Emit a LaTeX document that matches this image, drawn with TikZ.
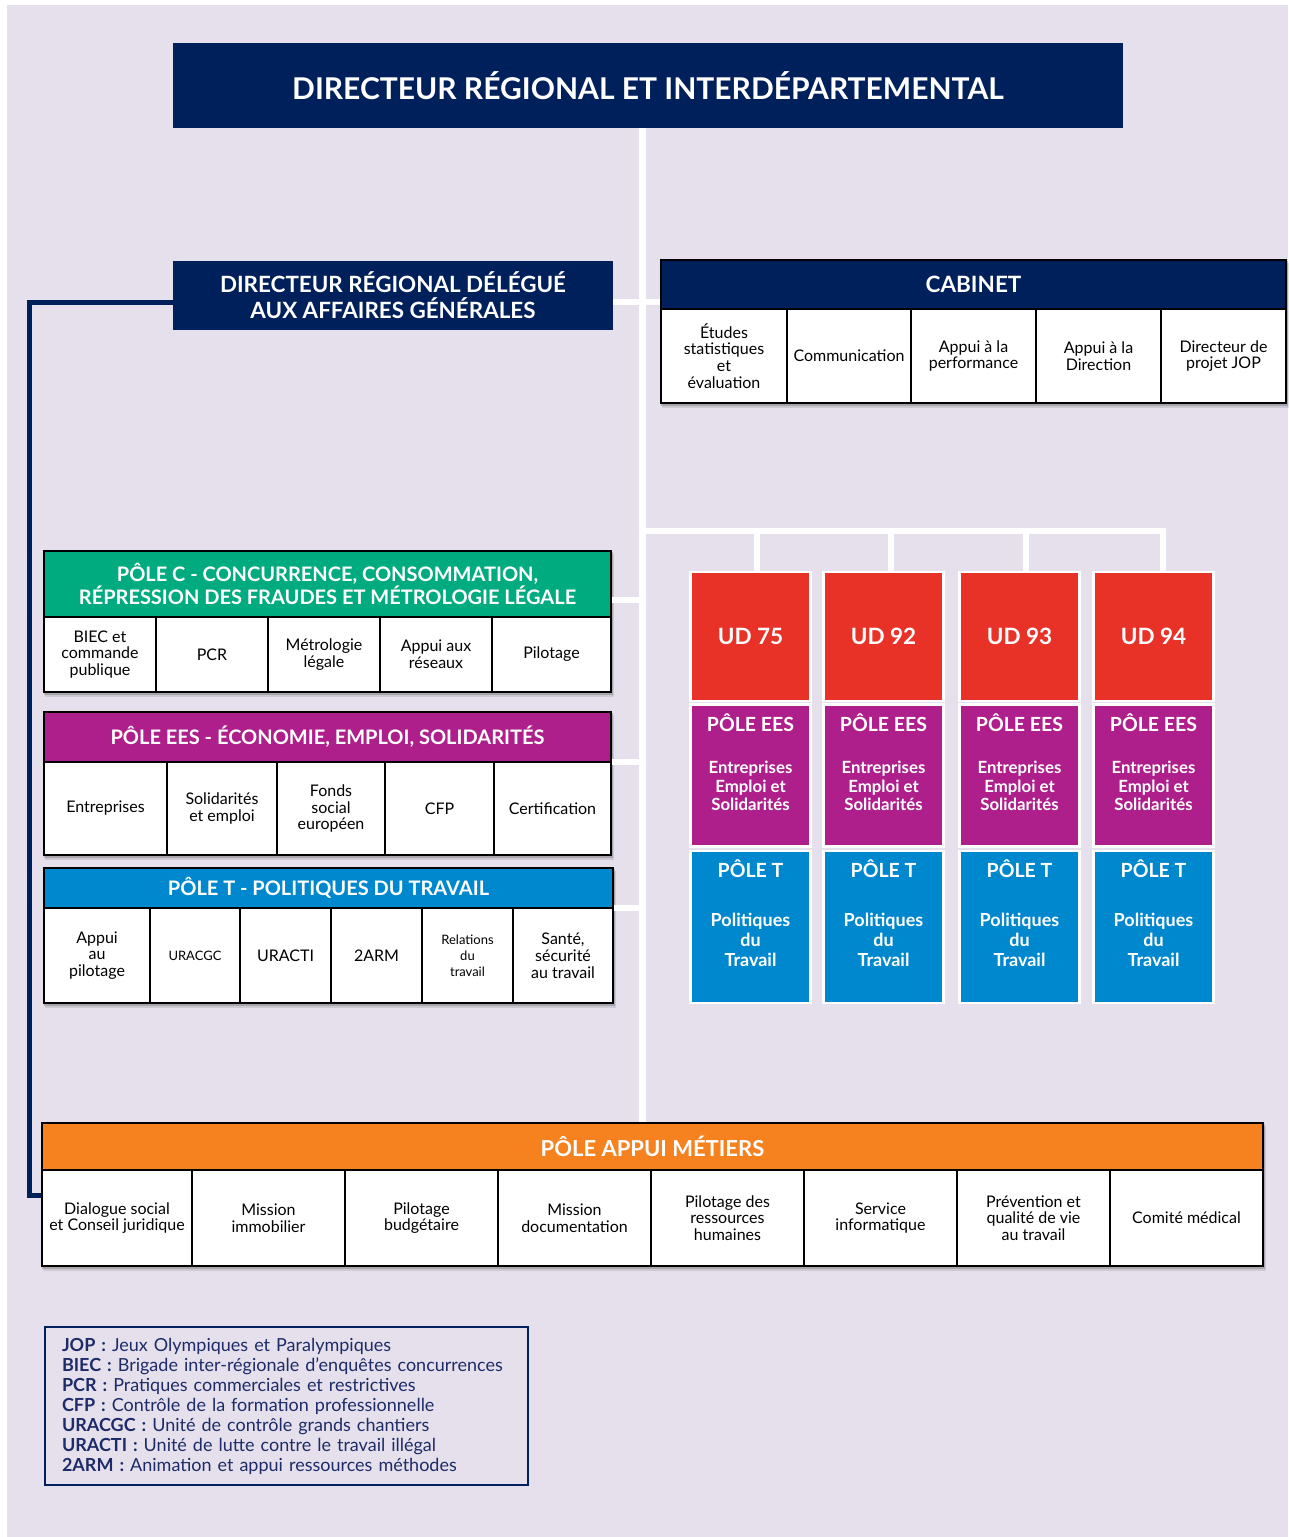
\documentclass[tikz,border=0pt]{standalone}
\usepackage{fontspec}
\setmainfont{Lato}
\usetikzlibrary{positioning,calc}
\definecolor{fond}{HTML}{E5E0EC}
\definecolor{marine}{HTML}{00205B}
\definecolor{vertc}{HTML}{00AB7F}
\definecolor{violetc}{HTML}{AE1F8C}
\definecolor{bleuc}{HTML}{0088CE}
\definecolor{rougec}{HTML}{E83127}
\definecolor{orangec}{HTML}{F5821F}
\definecolor{encre}{HTML}{1D2C68}
\tikzset{
  direction/.style={fill=marine,text=white,align=center,inner sep=0pt},
  entete/.style={draw=black,line width=2pt,text=white,align=center,inner sep=0pt,
    font=\bfseries\fontsize{20}{23}\selectfont},
  cellule/.style={draw=black,line width=2pt,fill=white,align=center,inner sep=0pt,
    font=\fontsize{16}{16.8}\selectfont},
  petit/.style={font=\fontsize{13}{16}\selectfont},
  std/.style={},
  udcase/.style={draw=white,line width=2.5pt,inner sep=0pt,minimum width=120},
  udtitre/.style={text=white,font=\bfseries\fontsize{19.5}{24}\selectfont},
  udtexte/.style={text=white,align=center,font=\bfseries\fontsize{16.8}{18.5}\selectfont},
  lien/.style={white,line width=6pt},
}
\newcommand{\ombre}[4]{%
  \fill[black,opacity=0.10] ({#1+1},{#2+3}) rectangle ({#3+3},{#4+5});
  \fill[black,opacity=0.18] ({#1},{#2+1}) rectangle ({#3+1.5},{#4+3});}

\begin{document}
\begin{tikzpicture}[x=1pt,y=-1pt]
  \useasboundingbox (0,0) rectangle (1288,1537);
  \fill[white] (0,0) rectangle (1288,1537);
  \fill[fond] (7,5) rectangle (1288,1537);
  % direction
  \node[direction,minimum width=950,minimum height=85,font=\bfseries\fontsize{30}{34}\selectfont]
    (dir) at (648,85.5) {DIRECTEUR RÉGIONAL ET INTERDÉPARTEMENTAL};
  \node[direction,minimum width=440,minimum height=69,font=\bfseries\fontsize{22.4}{26}\selectfont]
    (drd) at (393,295.5) {DIRECTEUR RÉGIONAL DÉLÉGUÉ\\AUX AFFAIRES GÉNÉRALES};
  % cabinet
  \ombre{661}{260}{1286}{403}
  \node[entete,fill=marine,minimum width=625,minimum height=49,font=\bfseries\fontsize{22.5}{24}\selectfont]
    (cab) at (973.5,284.5) {CABINET};
  \foreach \a/\b/\t [count=\i] in {661/787/{Études\\statistiques\\et\\évaluation},
      787/911/Communication,911/1036/{Appui à la\\performance},
      1036/1161/{Appui à la\\Direction},1161/1286/{Directeur de\\projet JOP}}
    \node[cellule,minimum width=\b-\a,minimum height=94] (cab-\i) at ({(\a+\b)/2},356) {\t};
  % poles regionaux
  \ombre{44}{551}{611}{692}
  \node[entete,fill=vertc,minimum width=567,minimum height=66] (poleC) at (327.5,584)
    {PÔLE C - CONCURRENCE, CONSOMMATION,\\RÉPRESSION DES FRAUDES ET MÉTROLOGIE LÉGALE};
  \foreach \a/\b/\t [count=\i] in {44/156/{BIEC et\\commande\\publique},156/268/PCR,
      268/380/{Métrologie\\légale},380/492/{Appui aux\\réseaux},492/611/Pilotage}
    \node[cellule,minimum width=\b-\a,minimum height=75] (poleC-\i) at ({(\a+\b)/2},654.5) {\t};
  \ombre{44}{712}{611}{855}
  \node[entete,fill=violetc,minimum width=567,minimum height=50] (poleEES) at (327.5,737)
    {PÔLE EES - ÉCONOMIE, EMPLOI, SOLIDARITÉS};
  \foreach \a/\b/\t [count=\i] in {44/167/Entreprises,167/277/{Solidarités\\et emploi},
      277/385/{Fonds\\social\\européen},385/494/CFP,494/611/Certification}
    \node[cellule,minimum width=\b-\a,minimum height=93] (poleEES-\i) at ({(\a+\b)/2},808.5) {\t};
  \ombre{44}{868}{613}{1003}
  \node[entete,fill=bleuc,minimum width=569,minimum height=40] (poleT) at (328.5,888)
    {PÔLE T - POLITIQUES DU TRAVAIL};
  \foreach \a/\b/\t/\s [count=\i] in {44/150/{Appui\\au\\pilotage}/std,150/240/URACGC/petit,
      240/331/URACTI/std,331/422/2ARM/std,422/513/{Relations\\du\\travail}/petit,
      513/613/{Santé,\\sécurité\\au travail}/std}
    \node[cellule,\s,minimum width=\b-\a,minimum height=95] (poleT-\i) at ({(\a+\b)/2},955.5) {\t};
  % unites departementales
  \foreach \x/\n [count=\i] in {750.5/75,883.5/92,1019.5/93,1153.5/94} {
    \node[udcase,fill=rougec,minimum height=129,text=white,font=\bfseries\fontsize{22.5}{30}\selectfont]
      (ud\i) at (\x,636.5) {UD \n};
    \node[udcase,fill=violetc,minimum height=142] (ees\i) at (\x,775.5) {};
    \node[udtitre] (ees\i-t) at (\x,723) {PÔLE EES};
    \node[udtexte] (ees\i-x) at (\x,786) {Entreprises\\Emploi et\\Solidarités};
    \node[udcase,fill=bleuc,minimum height=152] (t\i) at (\x,927) {};
    \node[udtitre] (t\i-t) at (\x,869) {PÔLE T};
    \node[udtexte,font=\bfseries\fontsize{18}{20}\selectfont] (t\i-x) at (\x,940) {Politiques\\du\\Travail};
  }
  % pole appui metiers
  \ombre{42}{1123}{1263}{1266}
  \node[entete,fill=orangec,minimum width=1221,minimum height=47,font=\bfseries\fontsize{22}{24}\selectfont]
    (appui) at (652.5,1146.5) {PÔLE APPUI MÉTIERS};
  \foreach \a/\b/\t [count=\i] in {42/192/{Dialogue social\\et Conseil juridique},
      192/345/{Mission\\immobilier},345/498/{Pilotage\\budgétaire},
      498/651/{Mission\\documentation},651/804/{Pilotage des\\ressources\\humaines},
      804/957/{Service\\informatique},957/1110/{Prévention et\\qualité de vie\\au travail},
      1110/1263/{Comité médical}}
    \node[cellule,minimum width=\b-\a,minimum height=96] (appui-\i) at ({(\a+\b)/2},1218) {\t};
  % liaisons
  \coordinate (axe) at (642,0);
  \coordinate (b0) at (642,302);
  \coordinate (b1) at (642,600);
  \coordinate (b2) at (642,762);
  \coordinate (b3) at (642,908);
  \coordinate (b4) at (642,531);
  \coordinate (coin) at (29,1195);
  \draw[lien,line width=7pt] (dir.south -| axe) -- (appui.north -| axe);
  \draw[lien] (drd.east |- b0) -- (cab.west |- b0);
  \draw[lien] (poleC.east |- b1) -- (b1);
  \draw[lien] (poleEES.east |- b2) -- (b2);
  \draw[lien] (poleT.east |- b3) -- (b3);
  \foreach \i/\d in {1/6,2/7,3/6,4/9.5}
    \draw[lien] ([xshift=\d pt]ud\i.north) |- (b4);
  \draw[marine,line width=5pt] (drd.west |- b0) -| (coin) -- (appui.west |- coin);
  % legende
  \node[draw=marine,line width=2pt,anchor=north west,minimum width=483,minimum height=158,
    inner xsep=17pt,text width=449,align=left,text=encre,font=\fontsize{18}{20}\selectfont]
    (legende) at (44,1326) {%
    \textbf{JOP :} Jeux Olympiques et Paralympiques\\
    \textbf{BIEC :} Brigade inter-régionale d’enquêtes concurrences\\
    \textbf{PCR :} Pratiques commerciales et restrictives\\
    \textbf{CFP :} Contrôle de la formation professionnelle\\
    \textbf{URACGC :} Unité de contrôle grands chantiers\\
    \textbf{URACTI :} Unité de lutte contre le travail illégal\\
    \textbf{2ARM :} Animation et appui ressources méthodes};
\end{tikzpicture}
\end{document}
